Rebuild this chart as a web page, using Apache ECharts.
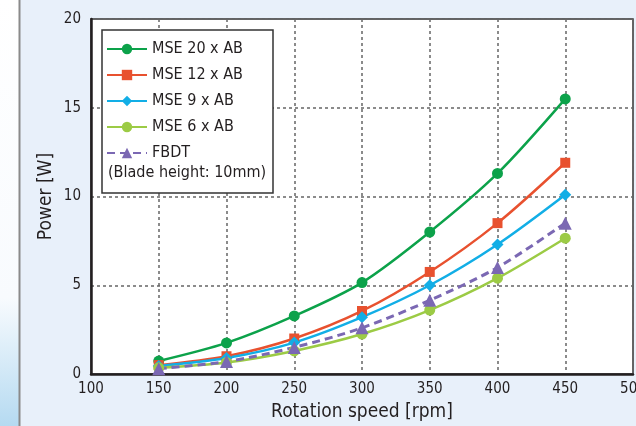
<!DOCTYPE html>
<html>
<head>
<meta charset="utf-8">
<script src="https://cdn.jsdelivr.net/npm/echarts@6/dist/echarts.min.js"></script>
<style>
	html, body { margin: 0; padding: 0; }
	#chart { width: 636px; height: 426px; }
</style>
</head>
<body>
<div id="chart"></div>
<script>
	const speeds = [150, 200, 250, 300, 350, 400, 450];
	const mse20 = [0.73, 1.75, 3.27, 5.15, 8.0, 11.3, 15.5];
	const mse12 = [0.5, 1.0, 2.0, 3.55, 5.75, 8.5, 11.9];
	const mse9 = [0.45, 0.9, 1.77, 3.2, 5.0, 7.3, 10.1];
	const mse6 = [0.35, 0.65, 1.3, 2.25, 3.6, 5.4, 7.65];
	const fbdt = [0.3, 0.7, 1.5, 2.6, 4.15, 6.0, 8.5];
	const names = ["MSE 20 x AB", "MSE 12 x AB", "MSE 9 x AB", "MSE 6 x AB", "FBDT"];
	const note = "(Blade height: 10mm)";

	const font = "'DejaVu Sans Condensed', 'Liberation Sans Narrow', sans-serif";
	const chart = echarts.init(document.getElementById("chart"));

	function pairs(vals) {
		return speeds.map((s, i) => [s, vals[i]]);
	}

	function line(name, vals, color, symbol, size, dashed) {
		return {
			name: name,
			type: "line",
			data: pairs(vals),
			smooth: 0.3,
			symbol: symbol,
			symbolSize: size,
			lineStyle: { color: color, width: dashed ? 3 : 2.5, type: dashed ? [8, 5] : "solid" },
			itemStyle: { color: color },
		};
	}

	chart.setOption({
		backgroundColor: "#e8f0fa",
		animation: false,
		textStyle: { fontFamily: font },
		graphic: [
			{
				type: "rect",
				shape: { x: 0, y: 0, width: 19, height: 426 },
				style: {
					fill: new echarts.graphic.LinearGradient(0, 0, 0, 1, [
						{ offset: 0, color: "#ffffff" },
						{ offset: 0.7, color: "#f8fbfe" },
						{ offset: 1, color: "#b5daf1" },
					]),
				},
				z: 1,
			},
			{
				type: "line",
				shape: { x1: 19.5, y1: 0, x2: 19.5, y2: 426 },
				style: { stroke: "#8a8a8a", lineWidth: 2 },
				z: 1,
			},
			{
				type: "rect",
				shape: { x: 102, y: 30, width: 171, height: 163 },
				style: { fill: "#ffffff", stroke: "#333333", lineWidth: 1.5 },
				z: 8,
			},
			{
				type: "text",
				left: 108,
				top: 165,
				style: { text: note, font: "16px " + font, fill: "#231f20" },
				z: 11,
			},
		],
		legend: {
			orient: "vertical",
			left: 101,
			top: 36,
			itemWidth: 40,
			itemHeight: 13,
			itemGap: 10,
			z: 10,
			data: names,
			textStyle: { fontSize: 16, color: "#231f20", fontFamily: font },
		},
		grid: {
			left: 91,
			right: 3,
			top: 19,
			bottom: 52,
			outerBoundsMode: "none",
			containLabel: false,
			show: true,
			backgroundColor: "#ffffff",
			borderColor: "#333333",
			borderWidth: 1.5,
		},
		xAxis: {
			type: "value",
			min: 100,
			max: 500,
			interval: 50,
			name: "Rotation speed [rpm]",
			nameLocation: "middle",
			nameGap: 29,
			nameMoveOverlap: false,
			nameTextStyle: { fontSize: 19, color: "#231f20" },
			axisLine: { lineStyle: { color: "#231f20", width: 2.5 } },
			axisTick: { show: false },
			axisLabel: { fontSize: 15, color: "#231f20", margin: 8 },
			splitLine: { lineStyle: { color: "#666666", type: [3, 3], width: 1.5 } },
		},
		yAxis: {
			type: "value",
			min: 0,
			max: 20,
			interval: 5,
			name: "Power [W]",
			nameLocation: "middle",
			nameGap: 35,
			nameMoveOverlap: false,
			nameTextStyle: { fontSize: 19, color: "#231f20" },
			axisLine: { show: true, lineStyle: { color: "#231f20", width: 2.5 } },
			axisTick: { show: false },
			axisLabel: { fontSize: 15, color: "#231f20", margin: 10 },
			splitLine: { lineStyle: { color: "#666666", type: [3, 3], width: 1.5 } },
		},
		series: [
			line(names[0], mse20, "#0ca24a", "circle", 11, false),
			line(names[1], mse12, "#e8512f", "rect", 10, false),
			line(names[2], mse9, "#12aee6", "diamond", 12, false),
			line(names[3], mse6, "#9ccb45", "circle", 11, false),
			line(names[4], fbdt, "#7b68b3", "triangle", 13, true),
		],
	});
</script>
</body>
</html>
